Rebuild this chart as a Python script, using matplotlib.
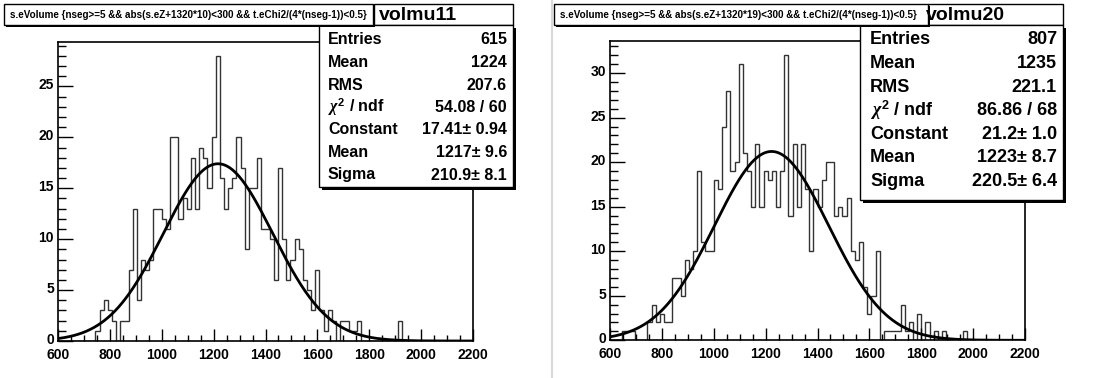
import numpy as np
import matplotlib
matplotlib.use("Agg")
import matplotlib.pyplot as plt
from matplotlib.patches import Rectangle
from matplotlib.ticker import MultipleLocator
from matplotlib.transforms import ScaledTranslation

plt.rcParams['font.family'] = ['Liberation Sans', 'DejaVu Sans']
plt.rcParams['font.weight'] = 'bold'
plt.rcParams['mathtext.fontset'] = 'custom'
plt.rcParams['mathtext.it'] = 'Liberation Serif:italic'
plt.rcParams['mathtext.rm'] = 'Liberation Sans:bold'

# ---------------- data ----------------
x_min, x_max, n_bins = 600, 2200, 100

# left histogram (volmu11): bin index -> count
left_counts_map = {
    9: 1, 10: 3, 11: 4, 12: 3, 13: 2, 14: 0, 15: 2, 16: 2, 17: 7, 18: 13,
    19: 4, 20: 8, 21: 7, 22: 8, 23: 13, 24: 13, 25: 12, 26: 11, 27: 20, 28: 20,
    29: 12, 30: 14, 31: 13, 32: 18, 33: 13, 34: 19, 35: 18, 36: 15, 37: 20, 38: 28,
    39: 16, 40: 13, 41: 15, 42: 16, 43: 20, 44: 17, 45: 9, 46: 15, 47: 15, 48: 18,
    49: 11, 50: 11, 51: 10, 52: 6, 53: 17, 54: 10, 55: 6, 56: 8, 57: 10, 58: 9,
    59: 6, 60: 5, 61: 3, 62: 7, 63: 3, 64: 1, 65: 3, 66: 2, 67: 0, 68: 2,
    69: 2, 70: 1, 71: 1, 72: 2, 82: 2,
}
# right histogram (volmu20)
right_counts_map = {
    3: 1, 4: 1, 5: 1, 9: 2, 10: 4, 11: 2, 12: 3, 13: 2, 14: 2, 15: 7,
    16: 7, 17: 5, 18: 9, 19: 8, 20: 10, 21: 19, 22: 11, 23: 10, 24: 10, 25: 18,
    26: 17, 27: 24, 28: 28, 29: 19, 30: 20, 31: 31, 32: 21, 33: 19, 34: 15, 35: 22,
    36: 15, 37: 19, 38: 18, 39: 19, 40: 15, 41: 19, 42: 32, 43: 14, 44: 22, 45: 15,
    46: 22, 47: 17, 48: 10, 49: 17, 50: 15, 51: 18, 52: 20, 53: 20, 54: 14, 55: 15,
    56: 14, 57: 16, 58: 10, 59: 9, 60: 11, 61: 6, 62: 3, 63: 5, 64: 10, 66: 1,
    67: 1, 68: 1, 69: 1, 70: 4, 71: 1, 72: 2, 74: 3, 76: 2, 78: 1, 80: 1, 85: 1,
}

left_fit = (17.41, 1217.0, 210.9)   # constant, mean, sigma
right_fit = (21.2, 1223.0, 220.5)

left_title = "s.eVolume {nseg>=5 && abs(s.eZ+1320*10)<300 && t.eChi2/(4*(nseg-1))<0.5}"
right_title = "s.eVolume {nseg>=5 && abs(s.eZ+1320*19)<300 && t.eChi2/(4*(nseg-1))<0.5}"
left_name, right_name = "volmu11", "volmu20"

chi_label = r"$\chi^{\mathrm{2}}$ / ndf"
left_stats_labels = ["Entries", "Mean", "RMS", chi_label, "Constant", "Mean", "Sigma"]
left_stats_values = ["615", "1224", "207.6", "54.08 / 60", "17.41\u00b1 0.94", "1217\u00b1 9.6", "210.9\u00b1 8.1"]
right_stats_labels = ["Entries", "Mean", "RMS", chi_label, "Constant", "Mean", "Sigma"]
right_stats_values = ["807", "1235", "221.1", "86.86 / 68", "21.2\u00b1 1.0", "1223\u00b1 8.7", "220.5\u00b1 6.4"]


def to_array(m):
    a = np.zeros(n_bins)
    for k, v in m.items():
        a[k] = v
    return a


left_counts = to_array(left_counts_map)
right_counts = to_array(right_counts_map)
edges = np.linspace(x_min, x_max, n_bins + 1)

# ---------------- figure ----------------
W, H = 1102, 378
fig = plt.figure(figsize=(W / 100, H / 100), dpi=100)
fig.patch.set_facecolor('white')


def fax(x0, y0, x1, y1):
    return fig.add_axes([x0 / W, 1 - y1 / H, (x1 - x0) / W, (y1 - y0) / H])


def draw_hist(ax, counts, fit, ymax_count, ymajor):
    ax.stairs(counts, edges, color='#333333', lw=1.0, baseline=0)
    xs = np.linspace(x_min, x_max, 600)
    c, m, s = fit
    ax.plot(xs, c * np.exp(-0.5 * ((xs - m) / s) ** 2), color='black', lw=2.0)
    ax.set_xlim(x_min, x_max)
    ax.set_ylim(0, ymax_count * 1.05)
    ax.xaxis.set_major_locator(MultipleLocator(200))
    ax.xaxis.set_minor_locator(MultipleLocator(50))
    ax.yaxis.set_major_locator(MultipleLocator(ymajor))
    ax.yaxis.set_minor_locator(MultipleLocator(1))
    ax.tick_params(which='both', direction='in', top=False, right=False,
                   labelsize=10, width=1, color='black')
    ax.tick_params(which='major', axis='y', length=11, pad=3)
    ax.tick_params(which='minor', axis='y', length=6)
    ax.tick_params(which='major', axis='x', length=9, pad=5)
    ax.tick_params(which='minor', axis='x', length=4.5)
    up = ScaledTranslation(0, 2.5 / 100, fig.dpi_scale_trans)
    for lab in ax.get_yticklabels():
        lab.set_fontweight('bold')
        lab.set_transform(lab.get_transform() + up)
    for lab in ax.get_xticklabels():
        lab.set_fontweight('bold')
    for sp in ax.spines.values():
        sp.set_linewidth(1.2)
        sp.set_color('black')


axL = fax(58, 41.7, 473, 341)
draw_hist(axL, left_counts, left_fit, left_counts.max(), 5)
axR = fax(610, 41, 1025, 340.3)
draw_hist(axR, right_counts, right_fit, right_counts.max(), 5)

# overlay in pixel coordinates for boxes / texts
ov = fig.add_axes([0, 0, 1, 1], zorder=10)
ov.set_xlim(0, W)
ov.set_ylim(H, 0)
ov.axis('off')
ov.patch.set_alpha(0)

# light gray pad separator
ov.plot([552, 552], [0, H], color='#d8d8d8', lw=1.5)


def box(x0, y0, x1, y1, shadow=2.5, lw=1.0):
    ov.add_patch(Rectangle((x0 + shadow, y0 + shadow), x1 - x0, y1 - y0,
                           facecolor='black', edgecolor='none'))
    ov.add_patch(Rectangle((x0, y0), x1 - x0, y1 - y0, facecolor='white',
                           edgecolor='black', lw=lw))


def stats(bx0, by0, bx1, by1, name, hx0, name_x, labels, values, fs, row0, dy, tx_pad):
    box(hx0, 4, bx1, by0, shadow=0)
    ov.text(name_x, (4 + by0) / 2 + 0.5, name, fontsize=14, fontweight='bold',
            va='center', ha='left')
    box(bx0, by0, bx1, by1, shadow=2.5)
    for i, (l, v) in enumerate(zip(labels, values)):
        y = row0 + i * dy
        ov.text(bx0 + tx_pad, y, l, fontsize=fs, fontweight='bold', va='center', ha='left')
        ov.text(bx1 - 6, y, v, fontsize=fs, fontweight='bold', va='center', ha='right')


stats(319, 25, 513, 187, left_name, 374, 379, left_stats_labels, left_stats_values,
      11.5, 40, 22.5, 9)
stats(860, 25, 1063, 200, right_name, 928, 926, right_stats_labels, right_stats_values,
      13.0, 40, 23.6, 10)

# title boxes (on top)
box(3.5, 4, 372.5, 25, shadow=2)
ov.text(10, 14.5, left_title, fontsize=7.1, fontweight='bold', va='center', ha='left')
box(554, 4, 927.5, 25, shadow=2)
ov.text(560, 14.5, right_title, fontsize=7.1, fontweight='bold', va='center', ha='left')

fig.savefig('out.png', dpi=100)
